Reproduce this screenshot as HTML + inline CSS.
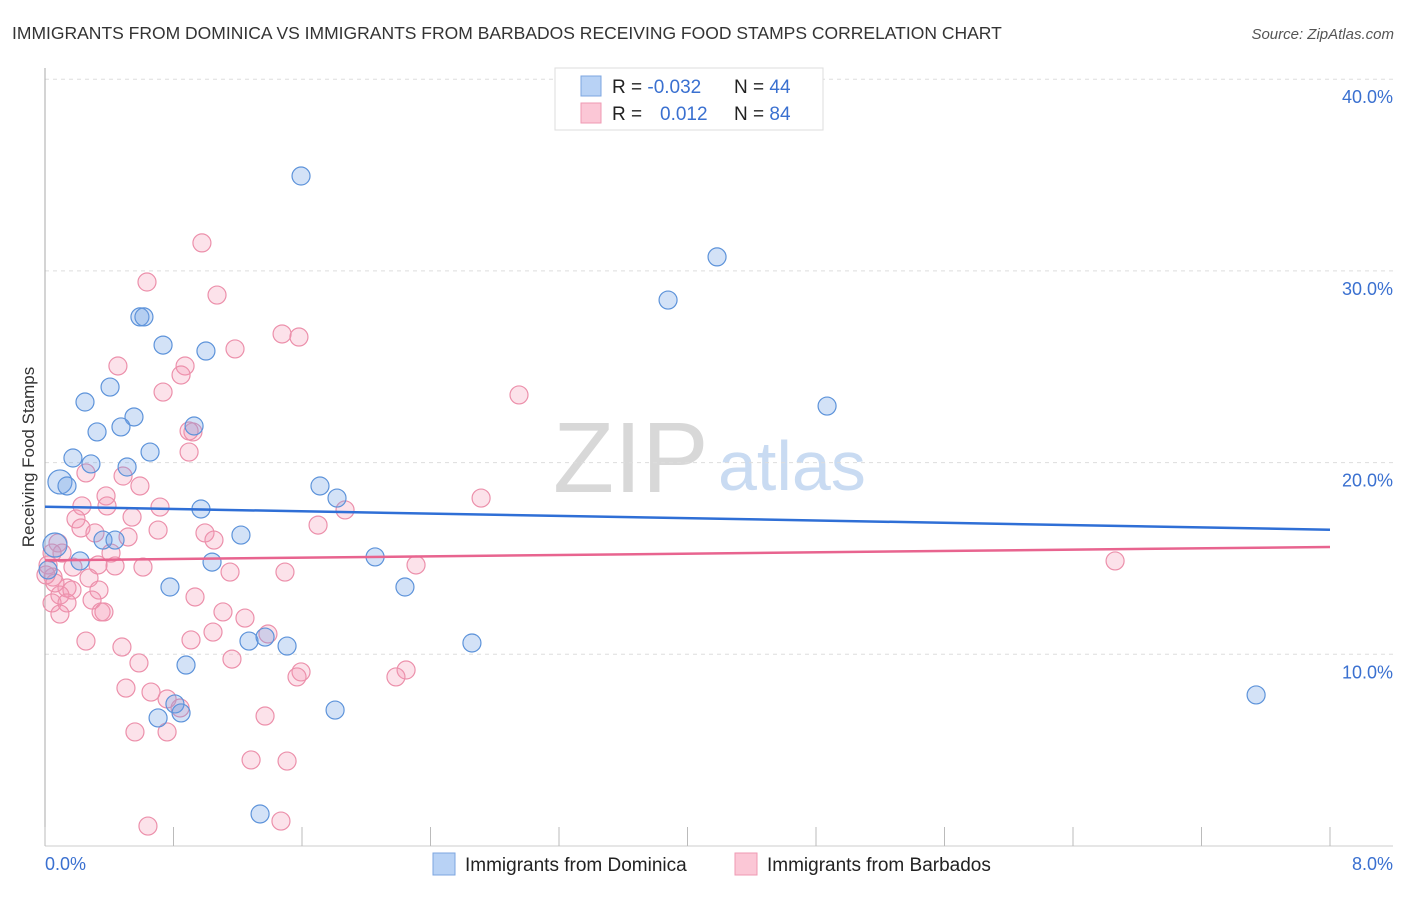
<!DOCTYPE html>
<html><head><meta charset="utf-8"><style>
body{margin:0;background:#fff;font-family:"Liberation Sans",sans-serif;}
svg text{font-family:"Liberation Sans",sans-serif;}
</style></head><body>
<svg id="chart" width="1406" height="892" xmlns="http://www.w3.org/2000/svg">
<text x="12" y="39" font-size="17.5" fill="#333">IMMIGRANTS FROM DOMINICA VS IMMIGRANTS FROM BARBADOS RECEIVING FOOD STAMPS CORRELATION CHART</text>
<text x="1394" y="39" font-size="15" fill="#555" text-anchor="end" font-style="italic">Source: ZipAtlas.com</text>
<g>
<text x="553" y="492" font-size="100" fill="#d8d8d8" font-family="Liberation Serif,serif">ZIP</text>
<text x="718" y="490" font-size="70" fill="#c9dbf2">atlas</text>
</g>
<g id="grid"></g>
<line x1="45" y1="68" x2="45" y2="846" stroke="#aaa"/>
<line x1="45" y1="846" x2="1393" y2="846" stroke="#ccc"/>
<g id="ticks"></g>
<g id="ylabels"></g>
<text x="45" y="870" font-size="18" fill="#3a70d0">0.0%</text>
<text x="1393" y="870" font-size="18" fill="#3a70d0" text-anchor="end">8.0%</text>
<text transform="translate(34,457) rotate(-90)" font-size="17" fill="#333" text-anchor="middle">Receiving Food Stamps</text>
<g id="points"></g>
<g id="lines"></g>
<g>
<rect x="555" y="68" width="268" height="62" fill="#fff" stroke="#ddd"/>
<rect x="581" y="76" width="20" height="20" fill="#b8d2f5" stroke="#7ca6e0"/>
<rect x="581" y="103" width="20" height="20" fill="#fbc7d6" stroke="#ef9ab3"/>
<text x="612" y="93" font-size="19" fill="#222">R = <tspan fill="#3a70d0">-0.032</tspan></text>
<text x="734" y="93" font-size="19" fill="#222">N = <tspan fill="#3a70d0">44</tspan></text>
<text x="612" y="120" font-size="19" fill="#222">R = <tspan fill="#3a70d0" x="660">0.012</tspan></text>
<text x="734" y="120" font-size="19" fill="#222">N = <tspan fill="#3a70d0">84</tspan></text>
</g>
<g>
<rect x="433" y="853" width="22" height="22" fill="#b8d2f5" stroke="#7ca6e0"/>
<text x="465" y="871" font-size="19" fill="#222">Immigrants from Dominica</text>
<rect x="735" y="853" width="22" height="22" fill="#fbc7d6" stroke="#ef9ab3"/>
<text x="767" y="871" font-size="19" fill="#222">Immigrants from Barbados</text>
</g>
</svg>
<script>
const yTicks=[10,20,30,40];
const yTickLabels=["10.0%","20.0%","30.0%","40.0%"];
const xTickVals=[0,0.8,1.6,2.4,3.2,4.0,4.8,5.6,6.4,7.2,8.0];
const domX=[0.591,0.616,0.735,1.002,0.405,0.249,0.554,0.473,0.324,0.928,0.654,0.174,0.286,0.511,0.093,0.137,1.712,1.818,0.971,1.220,0.361,0.436,0.062,0.218,1.040,2.055,0.019,0.778,2.241,2.658,1.270,1.370,1.507,0.878,0.809,0.704,0.847,1.806,1.339,1.594,4.184,3.879,4.869,7.540];
const domY=[27.60,27.60,26.13,25.82,23.94,23.16,22.38,21.86,21.60,21.91,20.55,20.24,19.93,19.77,18.99,18.78,18.78,18.15,17.58,16.22,15.96,15.96,15.70,14.87,14.81,15.08,14.40,13.51,13.51,10.59,10.69,10.90,10.43,9.44,7.41,6.68,6.94,7.09,1.67,34.95,30.73,28.48,22.95,7.88];
const domBig=[14,22];
const barX=[0.977,0.635,1.071,1.476,1.581,1.183,0.454,0.872,0.847,0.735,2.951,0.921,0.897,0.897,0.255,0.486,0.380,0.591,2.715,1.700,1.868,0.230,0.716,0.542,0.193,0.224,0.386,0.311,0.517,0.704,0.996,1.052,0.081,0.106,0.411,0.174,0.436,0.610,0.330,2.310,1.494,1.152,0.019,0.050,0.274,0.137,0.168,0.336,0.093,0.293,0.044,0.137,0.934,1.108,0.349,0.367,0.093,1.245,0.255,0.909,1.046,1.388,0.479,0.585,1.164,1.594,1.569,2.248,2.185,0.504,0.660,0.760,0.841,1.370,0.560,0.760,1.283,1.507,0.641,1.469,6.662,0.044,0.062,0.006];
const barY=[31.46,29.42,28.74,26.71,26.55,25.93,25.04,25.04,24.57,23.68,23.53,21.60,21.65,20.55,19.46,19.30,18.26,18.78,18.15,16.74,17.53,17.74,17.68,17.16,17.06,16.59,17.74,16.33,16.12,16.48,16.33,15.96,15.81,15.28,15.28,14.55,14.61,14.55,14.66,14.66,14.29,14.29,14.66,14.03,13.98,13.46,13.35,13.35,13.09,12.83,12.68,12.68,12.99,12.21,12.21,12.21,12.10,11.89,10.69,10.75,11.16,11.06,10.38,9.55,9.75,9.08,8.82,9.18,8.82,8.24,8.03,7.67,7.20,6.78,5.95,5.95,4.49,4.43,1.04,1.30,14.87,15.28,13.72,14.14];
const domTrend=[17.7,16.5];
const barTrend=[14.9,15.6];
const xRange=[0,8];
const NS="http://www.w3.org/2000/svg";
function sx(v){return 45+(v-xRange[0])/(xRange[1]-xRange[0])*1285;}
function sy(v){return 846-v*19.17;}
function mk(tag,attrs,parent){const e=document.createElementNS(NS,tag);for(const k in attrs)e.setAttribute(k,attrs[k]);parent.appendChild(e);return e;}
const grid=document.getElementById('grid'),yl=document.getElementById('ylabels'),tk=document.getElementById('ticks');
yTicks.forEach((t,i)=>{
 const l=mk('line',{x1:45,x2:1393,y1:sy(t),y2:sy(t),stroke:'#ddd','stroke-dasharray':'4,4'},grid);
 
 
 const tx=mk('text',{x:1393,y:sy(t)+24,'font-size':18,fill:'#3a70d0','text-anchor':'end'},yl);
 tx.textContent=yTickLabels[i];
 
 
});
xTickVals.forEach(v=>{
 const l=mk('line',{x1:sx(v),x2:sx(v),y1:827,y2:846,stroke:'#bbb'},tk);
 
 
});
const pts=document.getElementById('points');


barX.forEach((x,i)=>{
 const c=mk('circle',{cx:sx(x),cy:sy(barY[i]),r:9,fill:'rgba(244,150,180,0.28)',stroke:'#ec90ab','stroke-width':1.2},pts);
 
 
});
domX.forEach((x,i)=>{
 const c=mk('circle',{cx:sx(x),cy:sy(domY[i]),r:domBig.includes(i)?12:9,fill:'rgba(110,160,230,0.3)',stroke:'#5d93da','stroke-width':1.2},pts);
 
 
});
const lg=document.getElementById('lines');
const l1=mk('line',{x1:sx(xRange[0]),x2:sx(xRange[1]),y1:sy(domTrend[0]),y2:sy(domTrend[1]),stroke:'#2f6fd6','stroke-width':2.5},lg);


const l2=mk('line',{x1:sx(xRange[0]),x2:sx(xRange[1]),y1:sy(barTrend[0]),y2:sy(barTrend[1]),stroke:'#e8648f','stroke-width':2.5},lg);


</script>
</body></html>
